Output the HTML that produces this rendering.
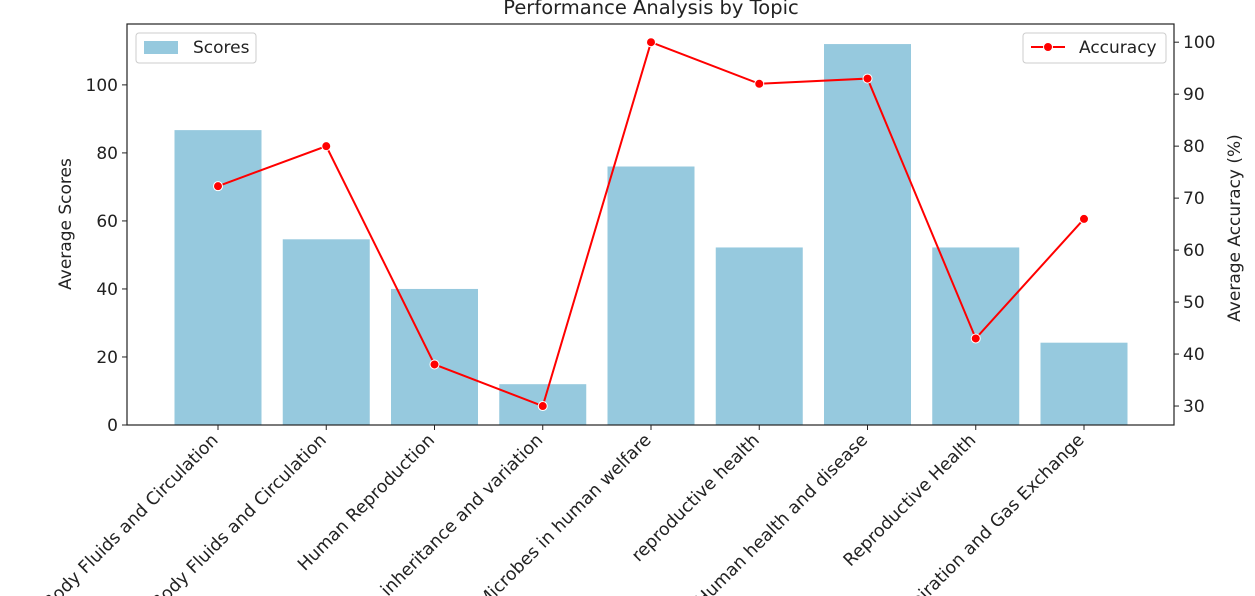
<!DOCTYPE html>
<html><head><meta charset="utf-8">
<style>
html,body{margin:0;padding:0;background:#fff;width:1255px;height:596px;overflow:hidden;}
svg{display:block;}
svg text{font-family:"DejaVu Sans","Liberation Sans",sans-serif;fill:#222;}
</style></head>
<body>
<svg id="chart" width="1255" height="596" viewBox="0 0 1255 596" xmlns="http://www.w3.org/2000/svg">
<text x="651" y="14" text-anchor="middle" font-size="19.5">Performance Analysis by Topic</text>
<g id="bars"></g>
<g id="line"></g>
<g id="axes"></g>
<text transform="translate(71,224) rotate(-90)" text-anchor="middle" font-size="17">Average Scores</text>
<text transform="translate(1240,228) rotate(-90)" text-anchor="middle" font-size="17">Average Accuracy (%)</text>
<g>
<rect x="136" y="33" width="120" height="30" rx="3" fill="#fff" stroke="#ccc"/>
<rect x="144" y="41" width="34" height="13" fill="#96c9de"/>
<text x="193" y="53" font-size="17">Scores</text>
</g>
<g>
<rect x="1023" y="33" width="143" height="30" rx="3" fill="#fff" stroke="#ccc"/>
<line x1="1031" y1="47" x2="1065" y2="47" stroke="#ff0000" stroke-width="2"/>
<circle cx="1048" cy="47" r="4.5" fill="#ff0000" stroke="#fff" stroke-width="1"/>
<text x="1079" y="53" font-size="17">Accuracy</text>
</g>
</svg>
<script>
const categories = ["Body Fluids and Circulation","Body Fluids and Circulation","Human Reproduction","inheritance and variation","Microbes in human welfare","reproductive health","Human health and disease","Reproductive Health","Respiration and Gas Exchange"];
const scores = [86.7, 54.6, 40, 12, 76, 52.2, 112, 52.2, 24.2];
const accuracy = [72.3, 80, 38, 30, 100, 92, 93, 43, 66];
const yTicks = [0,20,40,60,80,100];
const y2Ticks = [30,40,50,60,70,80,90,100];

const NS="http://www.w3.org/2000/svg";
const L=127,R=1174,T=24,B=425;
const yMax=117.9, y2Min=26.35, y2Max=103.5;
function xPos(i){return 218+i*108.25;}
function yS(v){return B-(v/yMax)*(B-T);}
function yA(v){return B-((v-y2Min)/(y2Max-y2Min))*(B-T);}
function mk(tag,attrs,parent){const e=document.createElementNS(NS,tag);for(const k in attrs)e.setAttribute(k,attrs[k]);parent.appendChild(e);return e;}
const bars=document.getElementById('bars'),line=document.getElementById('line'),axes=document.getElementById('axes');
scores.forEach((v,i)=>{
  const r=mk('rect',{x:xPos(i)-43.5,y:yS(v),width:87,height:B-yS(v),fill:'#96c9de'},bars);
  
  
});
const pts=accuracy.map((v,i)=>xPos(i)+','+yA(v)).join(' ');
const pl=mk('polyline',{points:pts,fill:'none',stroke:'#ff0000','stroke-width':2},line);


accuracy.forEach((v,i)=>{
  const c=mk('circle',{cx:xPos(i),cy:yA(v),r:4.5,fill:'#ff0000',stroke:'#fff','stroke-width':1},line);
  
  
});
const fr=mk('rect',{x:L,y:T,width:R-L,height:B-T,fill:'none',stroke:'#222','stroke-width':1.2},axes);


yTicks.forEach(v=>{
  const y=yS(v);
  mk('line',{x1:L-5,x2:L,y1:y,y2:y,stroke:'#222'},axes);
  const t=mk('text',{x:L-9,y:y+6,'text-anchor':'end','font-size':17},axes);
  t.textContent=v;
  
  
});
y2Ticks.forEach(v=>{
  const y=yA(v);
  mk('line',{x1:R,x2:R+5,y1:y,y2:y,stroke:'#222'},axes);
  const t=mk('text',{x:R+9,y:y+6,'font-size':17},axes);
  t.textContent=v;
  
  
});
categories.forEach((c,i)=>{
  const x=xPos(i);
  mk('line',{x1:x,x2:x,y1:B,y2:B+5,stroke:'#222'},axes);
  const t=mk('text',{transform:`translate(${x+1},${B+16}) rotate(-45)`,'text-anchor':'end','font-size':17.5},axes);
  t.textContent=c;
  
  
});
</script>
</body></html>
